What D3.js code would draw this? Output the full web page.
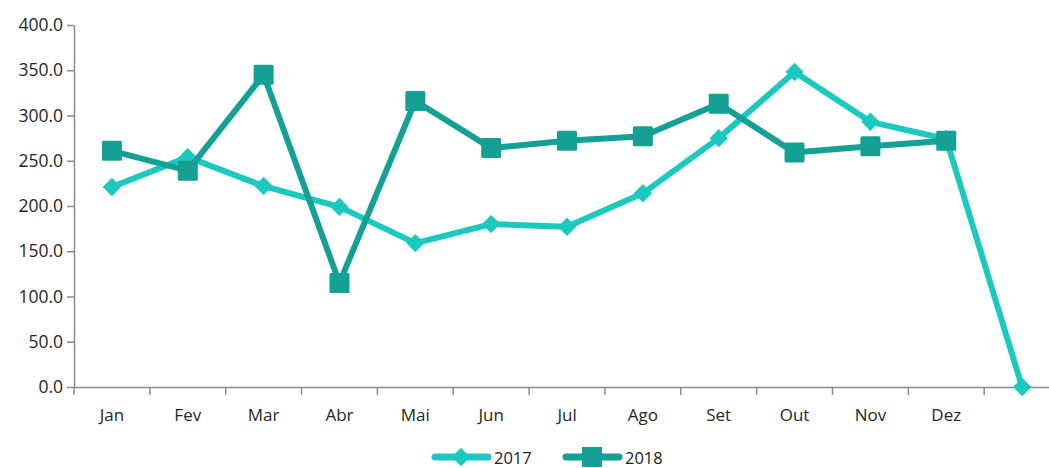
<!DOCTYPE html>
<html><head><meta charset="utf-8">
<script src="https://cdn.jsdelivr.net/npm/d3@7"></script>
<style>html,body{margin:0;padding:0;background:#fff;overflow:hidden}</style>
</head><body>
<svg id="c" width="1049" height="468"></svg>
<script>
const categories = ["Jan","Fev","Mar","Abr","Mai","Jun","Jul","Ago","Set","Out","Nov","Dez",""];
const values2017 = [221,254,222,199,159,180,177,214,275,348,293,274,0];
const values2018 = [261,239,345,115,316,264,272,277,313,259,266,272];
const yTicks = [0,50,100,150,200,250,300,350,400];
const seriesNames = ["2017","2018"];

const svg = d3.select("#c");
const font = "'Open Sans', sans-serif";
const c2017 = "#1cc9bf", c2018 = "#15a096";
const x0 = 74, bw = 75.85;
const x = d3.scaleBand().domain(categories.map((d,i)=>i)).range([x0, x0 + bw*categories.length]).padding(0);
const y = d3.scaleLinear().domain([0,400]).range([387,25]);
const cx = i => x(i) + x.bandwidth()/2;

// Y axis
const ya = svg.append("g").attr("transform",`translate(${x0},0)`)
  .call(d3.axisLeft(y).tickValues(yTicks).tickSize(7).tickSizeOuter(0).tickFormat(d3.format(".1f")));
ya.select(".domain").attr("stroke","#8c8c8c").attr("stroke-width",1.5);
ya.selectAll(".tick line").attr("stroke","#8c8c8c").attr("stroke-width",1.5);
ya.selectAll(".tick text").attr("font-family",font).attr("font-size",17.5).attr("fill","#262626").attr("x",-11);

// X axis
const xa = svg.append("g").attr("transform",`translate(0,${y(0)})`)
  .call(d3.axisBottom(x).tickSize(0).tickFormat(i=>categories[i]));
xa.select(".domain").attr("stroke","#8c8c8c").attr("stroke-width",1.5);
xa.selectAll(".tick text").attr("font-family",font).attr("font-size",17).attr("fill","#262626").attr("dy","1.8em");
// boundary ticks
const bounds = d3.range(categories.length+1).map(i => x0 + i*bw);
svg.append("g").selectAll("line").data(bounds).join("line")
  .attr("x1",d=>d).attr("x2",d=>d).attr("y1",y(0)).attr("y2",y(0)+8)
  .attr("stroke","#8c8c8c").attr("stroke-width",1.5);

const line = d3.line().x((d,i)=>cx(i)).y(d=>y(d));

// 2017
svg.append("path").datum(values2017).attr("d",line).attr("fill","none")
  .attr("stroke",c2017).attr("stroke-width",6).attr("stroke-linejoin","round");
const diamond = d3.symbol().type(d3.symbolSquare).size(170);
svg.append("g").selectAll("path").data(values2017).join("path")
  .attr("d",diamond).attr("fill",c2017)
  .attr("transform",(d,i)=>`translate(${cx(i)},${y(d)}) rotate(45)`);

// 2018
svg.append("path").datum(values2018).attr("d",line).attr("fill","none")
  .attr("stroke",c2018).attr("stroke-width",6).attr("stroke-linejoin","round");
svg.append("g").selectAll("rect").data(values2018).join("rect")
  .attr("x",(d,i)=>cx(i)-10).attr("y",d=>y(d)-10).attr("width",20).attr("height",20)
  .attr("rx",1.5).attr("fill",c2018);

// Legend
const ly = 457;
const lg = svg.append("g");
const items = [{name:seriesNames[0],c:c2017,x:432,type:"d"},{name:seriesNames[1],c:c2018,x:563,type:"s"}];
items.forEach(it=>{
  const g = lg.append("g");
  g.append("line").attr("x1",it.x+3).attr("x2",it.x+56).attr("y1",ly).attr("y2",ly)
    .attr("stroke",it.c).attr("stroke-width",7).attr("stroke-linecap","round");
  if(it.type==="d"){
    g.append("path").attr("d",diamond).attr("fill",it.c).attr("transform",`translate(${it.x+29},${ly}) rotate(45)`);
  } else {
    g.append("rect").attr("x",it.x+19).attr("y",ly-10).attr("width",20).attr("height",20).attr("fill",it.c);
  }
  g.append("text").attr("x",it.x+62).attr("y",ly).attr("dominant-baseline","central")
    .attr("font-family",font).attr("font-size",16.5)
    .attr("fill","#222").text(it.name);
});
</script>
</body></html>
